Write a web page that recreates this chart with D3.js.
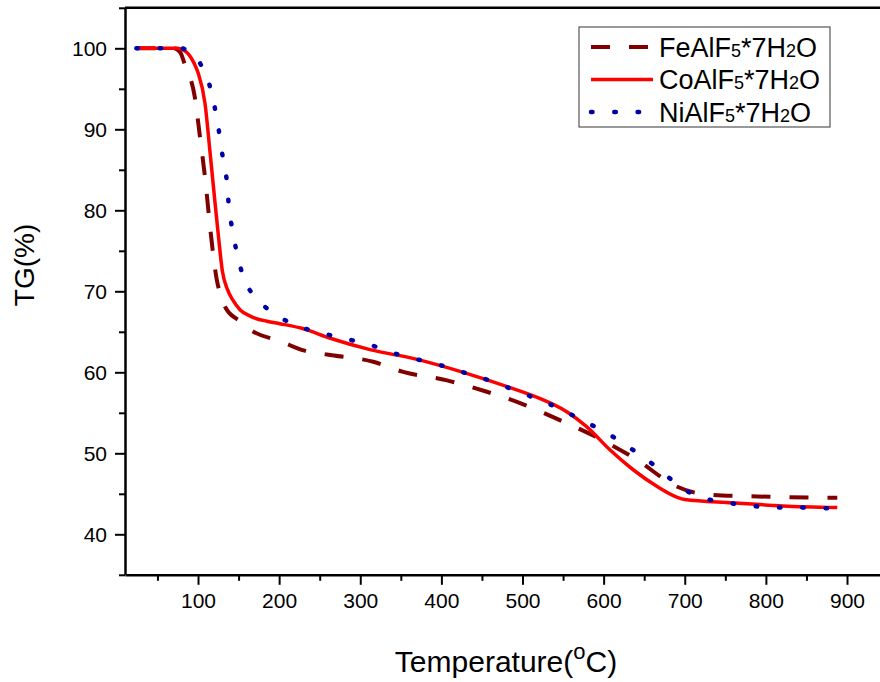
<!DOCTYPE html>
<html>
<head>
<meta charset="utf-8">
<script src="https://cdn.jsdelivr.net/npm/d3@7"></script>
<style>
  body { margin: 0; background: #fff; }
  svg { display: block; font-family: "Liberation Sans", Arial, sans-serif; }
</style>
</head>
<body>
<div id="chart"></div>
<script>
// TG curves (temperature in oC, mass in %)
var feTemp = [24, 70, 78, 84, 96, 102.5, 108.6, 113.6, 118.5, 123, 127, 135, 155, 160, 205, 230, 259, 316, 353, 407, 456, 497, 546, 595, 641, 690, 710, 731, 780, 888];
var feTG   = [100, 100, 99.5, 97.9, 94, 89, 84.1, 79.2, 74.7, 71.5, 69.8, 67.8, 66.1, 65.6, 63.7, 62.7, 62.2, 61.3, 60.05, 59, 57.6, 56.2, 54.1, 51.8, 49.2, 45.9, 45.2, 44.9, 44.7, 44.5];

var coTemp = [24, 75, 85, 95, 100, 108.6, 115, 121, 125, 130, 136, 143, 152, 165, 185, 201, 229, 263, 312, 370, 427, 485, 518, 555, 579, 608, 636, 666, 690, 700, 759, 821, 888];
var coTG   = [100, 100, 99.6, 98.2, 97, 93.2, 87, 80.9, 77, 72.5, 70.3, 68.9, 67.7, 66.9, 66.3, 66, 65.4, 64.2, 62.8, 61.6, 60, 58.1, 56.9, 55.1, 53.3, 50.4, 48, 45.9, 44.6, 44.3, 43.9, 43.5, 43.3];

var niTemp = [24, 80, 88, 98, 105, 116, 122, 127, 131, 135.7, 138, 142, 148, 155.5, 174, 201, 229, 254, 283.6, 312, 340, 370, 398, 427, 456, 485, 518, 546, 575, 604, 632, 660, 685.5, 715, 725, 753, 783, 811, 840, 880];
var niTG   = [100, 100, 99.6, 98.8, 97.7, 94.8, 92, 89, 86.2, 83.4, 80.5, 77.8, 74.7, 71.9, 69, 66.8, 65.5, 64.8, 64.1, 63.4, 62.4, 61.6, 60.9, 60, 59.1, 58, 56.7, 55.5, 54, 52.5, 50.7, 48.7, 46.6, 44.7, 44.4, 43.9, 43.5, 43.3, 43.3, 43.2];

var xTicks = [100, 200, 300, 400, 500, 600, 700, 800, 900];
var yTicks = [40, 50, 60, 70, 80, 90, 100];

var series = [
    {name: "FeAlF", temp: feTemp, tg: feTG, color: "#800000", width: 4, dash: "19,19", cap: "butt"},
    {name: "CoAlF", temp: coTemp, tg: coTG, color: "#ff0000", width: 3.5, dash: null, cap: "butt"},
    {name: "NiAlF", temp: niTemp, tg: niTG, color: "#0000aa", width: 4.5, dash: "1.5,21.8", cap: "round"}
];

var W = 880, H = 682;
var plotLeft = 125, plotTop = 7.8, plotBottom = 574.8;

var svg = d3.select("#chart").append("svg")
    .attr("width", W)
    .attr("height", H);

var x = d3.scaleLinear().domain([10, 950]).range([plotLeft, plotLeft + 940 * 0.81125]);
var y = d3.scaleLinear().domain([35, 105]).range([plotBottom, plotTop]);

// minor ticks (no labels)
var xMinor = d3.range(50, 950, 100);
var yMinor = d3.range(45, 105, 10).concat([35, 105]);

svg.append("g")
    .attr("transform", "translate(0," + plotBottom + ")")
    .call(d3.axisBottom(x).tickValues(xMinor).tickSize(6).tickFormat(""))
    .call(g => g.select(".domain").remove())
    .call(g => g.selectAll("line").attr("stroke-width", 2));

svg.append("g")
    .attr("transform", "translate(" + plotLeft + ",0)")
    .call(d3.axisLeft(y).tickValues(yMinor).tickSize(6).tickFormat(""))
    .call(g => g.select(".domain").remove())
    .call(g => g.selectAll("line").attr("stroke-width", 2));

var xAxis = svg.append("g")
    .attr("transform", "translate(0," + plotBottom + ")")
    .call(d3.axisBottom(x).tickValues(xTicks).tickSize(10).tickPadding(8).tickSizeOuter(0));
xAxis.select(".domain").attr("stroke-width", 2.5);
xAxis.selectAll("line").attr("stroke-width", 2);
xAxis.selectAll("text").attr("font-size", 21).attr("fill", "#000")
    .attr("font-family", "Liberation Sans, Arial, sans-serif");

var yAxis = svg.append("g")
    .attr("transform", "translate(" + plotLeft + ",0)")
    .call(d3.axisLeft(y).tickValues(yTicks).tickSize(10).tickPadding(8).tickSizeOuter(0));
yAxis.select(".domain").attr("stroke-width", 2.5);
yAxis.selectAll("line").attr("stroke-width", 2);
yAxis.selectAll("text").attr("font-size", 21).attr("fill", "#000")
    .attr("font-family", "Liberation Sans, Arial, sans-serif");

// top frame line
svg.append("line")
    .attr("x1", plotLeft).attr("x2", W)
    .attr("y1", plotTop).attr("y2", plotTop)
    .attr("stroke", "#000").attr("stroke-width", 2.5);

// curves
var line = d3.line()
    .x(d => x(d[0]))
    .y(d => y(d[1]))
    .curve(d3.curveMonotoneX);

series.forEach(function(s) {
    var pts = s.temp.map((t, i) => [t, s.tg[i]]);
    svg.append("path")
        .datum(pts)
        .attr("d", line)
        .attr("fill", "none")
        .attr("stroke", s.color)
        .attr("stroke-width", s.width)
        .attr("stroke-dasharray", s.dash)
        .attr("stroke-linecap", s.cap);
});

// legend
var legend = svg.append("g");
legend.append("rect")
    .attr("x", 579).attr("y", 27)
    .attr("width", 251).attr("height", 100)
    .attr("fill", "#fff")
    .attr("stroke", "#555").attr("stroke-width", 1.2);

series.forEach(function(s, i) {
    var ly = 47 + i * 32.5;
    legend.append("line")
        .attr("x1", 591).attr("x2", 653)
        .attr("y1", ly).attr("y2", ly)
        .attr("stroke", s.color)
        .attr("stroke-width", s.width)
        .attr("stroke-dasharray", s.dash)
        .attr("stroke-linecap", s.cap);
    var t = legend.append("text")
        .attr("x", 659).attr("y", ly + 9.5)
        .attr("font-size", 27)
        .attr("fill", "#000");
    t.append("tspan").text(s.name);
    t.append("tspan").attr("font-size", 18).text("5");
    t.append("tspan").text("*7H");
    t.append("tspan").attr("font-size", 18).text("2");
    t.append("tspan").text("O");
});

// axis titles
svg.append("text")
    .attr("transform", "translate(34,265) rotate(-90)")
    .attr("text-anchor", "middle")
    .attr("font-size", 28)
    .text("TG(%)");

var xt = svg.append("text")
    .attr("x", 506).attr("y", 672)
    .attr("text-anchor", "middle")
    .attr("font-size", 30);
xt.append("tspan").text("Temperature(");
xt.append("tspan").attr("font-size", 22).attr("dy", -13).text("o");
xt.append("tspan").attr("dy", 13).text("C)");
</script>
</body>
</html>
